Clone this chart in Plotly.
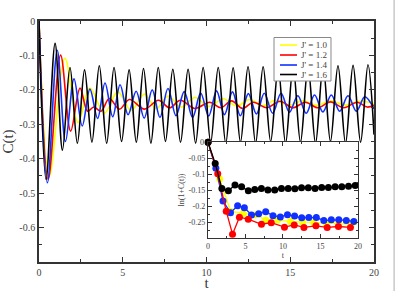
import plotly.graph_objects as go

SERIF = "Liberation Serif, Times New Roman, serif"

# ---------------- main panel: C(t), extrema ----------------
T10 = [0, 0.62, 1.55, 2.33, 3.04, 3.90, 4.70, 5.50, 6.30, 7.00, 7.70, 8.50, 9.30, 10.15, 11.00,
       11.80, 12.60, 13.35, 14.10, 14.90, 15.75, 16.60, 17.40, 18.30, 19.15, 20.0]
C10 = [0, -0.45, -0.108, -0.295, -0.195, -0.268, -0.205, -0.260, -0.212, -0.255, -0.218,
       -0.250, -0.222, -0.248, -0.226, -0.247, -0.228, -0.246, -0.230, -0.245, -0.232,
       -0.245, -0.232, -0.244, -0.233, -0.240]

T12 = [0, 0.55, 1.29, 1.89, 2.45, 2.90, 3.27, 3.70, 4.20, 4.80, 5.40, 6.30, 7.13, 7.80, 8.44,
       9.30, 10.20, 10.85, 11.50, 12.15, 12.80, 13.60, 14.40, 15.15, 15.90, 16.65, 17.40,
       18.20, 19.00, 19.60, 20.0]
C12 = [0, -0.46, -0.099, -0.320, -0.195, -0.262, -0.250, -0.262, -0.225, -0.256, -0.228,
       -0.256, -0.230, -0.252, -0.230, -0.254, -0.236, -0.252, -0.232, -0.254, -0.236,
       -0.252, -0.233, -0.252, -0.236, -0.252, -0.235, -0.252, -0.236, -0.250, -0.244]

T14 = [0, 0.50, 1.09, 1.58, 2.09, 2.58, 3.04, 3.50, 3.94, 4.40, 4.84, 5.32, 5.80, 6.28, 6.76,
       7.22, 7.70, 8.18, 8.67, 9.17, 9.65, 10.13, 10.60, 11.07, 11.55, 12.02, 12.50, 12.98,
       13.45, 13.95, 14.45, 14.95, 15.45, 15.95, 16.45, 16.95, 17.45, 17.95, 18.45, 18.95,
       19.45, 20.0]
C14 = [0, -0.47, -0.085, -0.35, -0.168, -0.305, -0.198, -0.283, -0.180, -0.278, -0.185,
       -0.272, -0.204, -0.282, -0.200, -0.280, -0.196, -0.275, -0.205, -0.280, -0.209,
       -0.276, -0.203, -0.272, -0.206, -0.275, -0.211, -0.270, -0.210, -0.268, -0.210,
       -0.265, -0.217, -0.268, -0.215, -0.264, -0.215, -0.262, -0.217, -0.262, -0.220, -0.255]

T16 = [0, 0.42, 0.96, 1.40, 1.85, 2.29, 2.72, 3.16, 3.60, 4.04, 4.48, 4.93, 5.38, 5.81, 6.24,
       6.68, 7.12, 7.55, 7.99, 8.45, 8.90, 9.35, 9.80, 10.25, 10.70, 11.15, 11.59, 12.03,
       12.48, 12.93, 13.38, 13.83, 14.28, 14.72, 15.17, 15.61, 16.06, 16.51, 16.96, 17.40,
       17.85, 18.30, 18.75, 19.20, 19.64, 20.0]
C16 = [0, -0.46, -0.065, -0.375, -0.135, -0.355, -0.142, -0.352, -0.130, -0.355, -0.135,
       -0.350, -0.142, -0.352, -0.138, -0.355, -0.135, -0.350, -0.140, -0.352, -0.140,
       -0.355, -0.135, -0.352, -0.135, -0.355, -0.136, -0.352, -0.133, -0.355, -0.133,
       -0.350, -0.135, -0.355, -0.132, -0.352, -0.132, -0.355, -0.130, -0.350, -0.130,
       -0.355, -0.129, -0.352, -0.127, -0.330]

# ---------------- inset: ln(1+C(t)) at the maxima ----------------
IT10 = [0, 1.55, 3.04, 4.7, 6.3, 7.7, 9.3, 11.0, 12.6, 14.1, 15.75, 17.4, 19.15]
IL10 = [0, -0.115, -0.217, -0.223, -0.228, -0.244, -0.244, -0.248, -0.250, -0.252, -0.255,
        -0.257, -0.257]

IT12 = [0, 1.3, 2.43, 3.27, 4.19, 5.37, 7.13, 8.44, 10.2, 11.5, 12.8, 14.4, 15.9, 17.4, 19.0]
IL12 = [0, -0.099, -0.216, -0.288, -0.235, -0.241, -0.257, -0.252, -0.266, -0.259, -0.267,
        -0.262, -0.267, -0.264, -0.267]

IT14 = [0, 1.05, 2.0, 3.0, 3.95, 4.85, 5.8, 6.76, 7.7, 8.67, 9.65, 10.6, 11.55, 12.5, 13.45,
        14.45, 15.45, 16.45, 17.45, 18.45, 19.45]
IL14 = [0, -0.082, -0.184, -0.221, -0.199, -0.205, -0.228, -0.224, -0.218, -0.230, -0.234,
        -0.227, -0.231, -0.237, -0.236, -0.236, -0.245, -0.243, -0.243, -0.245, -0.248]

IT16 = [0, 0.96, 1.85, 2.72, 3.60, 4.48, 5.38, 6.24, 7.12, 7.99, 8.90, 9.80, 10.70, 11.59,
        12.48, 13.38, 14.28, 15.17, 16.06, 16.96, 17.85, 18.75, 19.64]
IL16 = [0, -0.067, -0.145, -0.152, -0.134, -0.140, -0.152, -0.148, -0.145, -0.150, -0.150,
        -0.145, -0.145, -0.146, -0.143, -0.143, -0.145, -0.142, -0.142, -0.140, -0.140,
        -0.138, -0.136]

NAMES = ["J' = 1.0", "J' = 1.2", "J' = 1.4", "J' = 1.6"]
COLORS = ["#FFFF00", "#FF0000", "#1030FF", "#000000"]

X_TICKS = [0, 5, 10, 15, 20]
Y_TICKS = [0, -0.1, -0.2, -0.3, -0.4, -0.5, -0.6]
Y_TEXT = ["0", "-0.1", "-0.2", "-0.3", "-0.4", "-0.5", "-0.6"]
IY_TICKS = [0, -0.05, -0.1, -0.15, -0.2, -0.25]
IY_TEXT = ["", "-0.05", "-0.1", "-0.15", "-0.2", "-0.25"]
IY_TOP_LABEL = "0"

fig = go.Figure()

main = [(T10, C10), (T12, C12), (T14, C14), (T16, C16)]
for (t, c), name, col in zip(main, NAMES, COLORS):
    fig.add_trace(go.Scatter(x=t, y=c, mode="lines", name=name, showlegend=False,
                             line=dict(color=col, width=1.6, shape="spline", smoothing=1.0)))

inset = [(IT10, IL10, 0), (IT14, IL14, 2), (IT12, IL12, 1), (IT16, IL16, 3)]
for t, v, k in inset:
    fig.add_trace(go.Scatter(x=t, y=v, mode="lines+markers", showlegend=False,
                             xaxis="x2", yaxis="y2", cliponaxis=False,
                             line=dict(color=COLORS[k], width=1.3),
                             marker=dict(color=COLORS[k], size=7)))

axcol = "#333333"
tickfont = dict(family=SERIF, size=10, color="#444444")
ifont = dict(family=SERIF, size=8, color="#444444")

# hand-drawn compact legend (paper coordinates of the plot area)
shapes = [dict(type="rect", xref="paper", yref="paper", x0=0.7015, x1=0.8716, y0=0.751, y1=0.9315,
               line=dict(color="#888888", width=1), fillcolor="white", layer="above")]
annotations = []
LEG_Y = [0.9004, 0.8589, 0.8174, 0.778]
for name, col, ly in zip(NAMES, COLORS, LEG_Y):
    shapes.append(dict(type="line", xref="paper", yref="paper", x0=0.7194, x1=0.7701, y0=ly, y1=ly,
                       line=dict(color=col, width=1.6), layer="above"))
    annotations.append(dict(xref="paper", yref="paper", x=0.776, y=ly, text=name, showarrow=False,
                            xanchor="left", yanchor="middle",
                            font=dict(family=SERIF, size=9, color="#444444")))
shapes.append(dict(type="line", xref="paper", yref="paper", x0=1.06, x1=1.06, y0=-0.125, y1=1.09,
                   line=dict(color="#BBBBBB", width=1.2)))
# inset "0" tick label
annotations.append(dict(xref="x2", yref="y2", x=0, y=IY_TICKS[0], text=IY_TOP_LABEL,
                        showarrow=False, xanchor="right", yanchor="middle", xshift=-3,
                        bgcolor="white", borderpad=0,
                        font=dict(family=SERIF, size=8, color="#333333")))

fig.update_layout(
    width=399, height=291,
    margin=dict(l=39, r=25, t=21, b=29, autoexpand=False),
    paper_bgcolor="white", plot_bgcolor="white",
    showlegend=False,
    xaxis=dict(range=[0, 20], tickvals=X_TICKS, showline=True, linecolor=axcol, linewidth=1.6,
               mirror="ticks", ticks="inside", ticklen=5, tickwidth=1.2, tickcolor=axcol,
               minor=dict(ticks="inside", ticklen=3, dtick=2.5, tickcolor=axcol, tickwidth=1),
               showgrid=False, zeroline=False, tickfont=tickfont, automargin=False,
               title=dict(text="t", font=dict(family=SERIF, size=15, color="#333333"), standoff=4)),
    yaxis=dict(range=[-0.7, 0], tickvals=Y_TICKS, ticktext=Y_TEXT, showline=True, linecolor=axcol,
               linewidth=1.6, mirror="ticks", ticks="inside", ticklen=5, tickwidth=1.2,
               tickcolor=axcol, automargin=False,
               minor=dict(ticks="inside", ticklen=3, dtick=0.05, tickcolor=axcol, tickwidth=1),
               showgrid=False, zeroline=False, tickfont=tickfont,
               title=dict(text="C(t)", font=dict(family=SERIF, size=15, color="#333333"), standoff=2)),
    xaxis2=dict(domain=[0.5045, 0.952], anchor="y2", range=[0, 20], tickvals=X_TICKS,
                showline=True, linecolor=axcol, linewidth=1.3, mirror="ticks", ticks="inside",
                ticklen=4, tickwidth=1, tickcolor=axcol, automargin=False,
                minor=dict(ticks="inside", ticklen=2, dtick=2.5, tickcolor=axcol),
                showgrid=False, zeroline=False, tickfont=ifont,
                title=dict(text="t", font=dict(family=SERIF, size=8, color="#444444"), standoff=0)),
    yaxis2=dict(domain=[0.0996, 0.498], anchor="x2", range=[-0.3, 0.0005], tickvals=IY_TICKS,
                ticktext=IY_TEXT, showline=True, linecolor=axcol, linewidth=1.3, mirror="ticks",
                ticks="inside", ticklen=4, tickwidth=1, tickcolor=axcol, automargin=False,
                minor=dict(ticks="inside", ticklen=2, dtick=0.025, tickcolor=axcol),
                showgrid=False, zeroline=False, tickfont=ifont,
                title=dict(text="ln(1+C(t))", font=dict(family=SERIF, size=8, color="#444444"),
                           standoff=2)),
    shapes=shapes,
    annotations=annotations,
)

fig.write_html("out.html", config={"displayModeBar": False},
               post_script="document.body.style.margin='0px';")
